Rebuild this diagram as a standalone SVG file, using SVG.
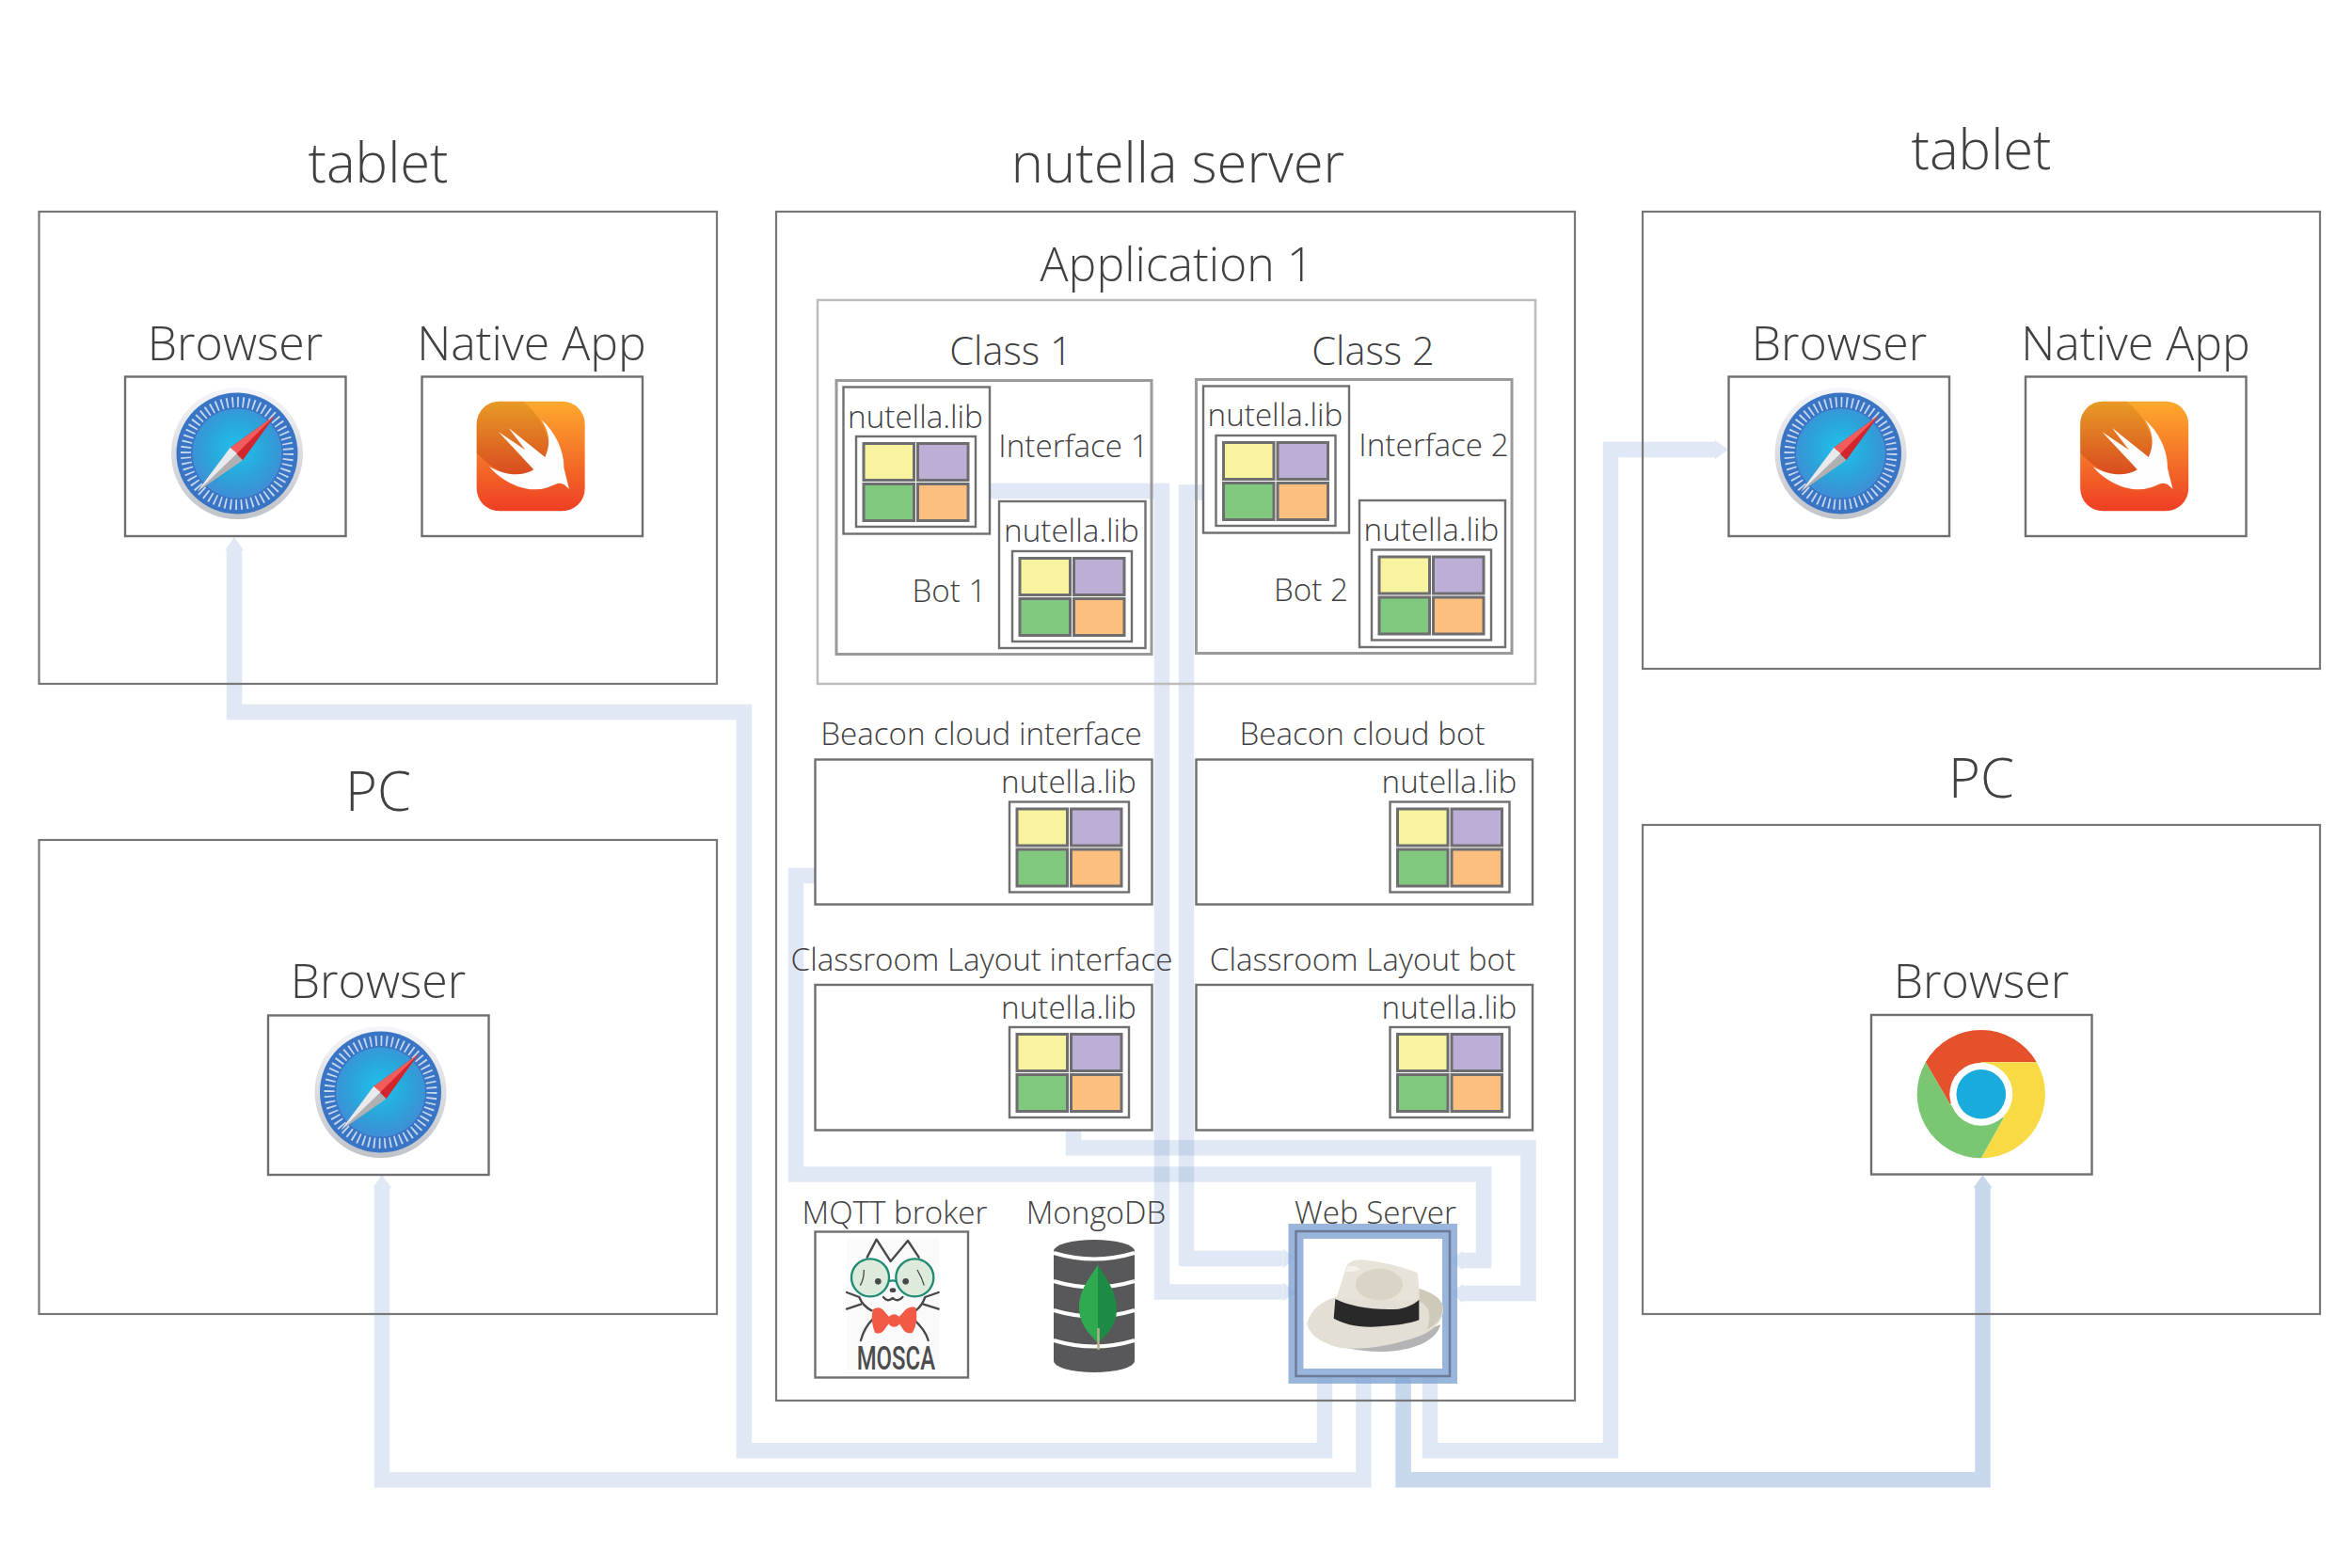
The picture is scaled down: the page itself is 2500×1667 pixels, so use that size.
<svg xmlns="http://www.w3.org/2000/svg" xmlns:xlink="http://www.w3.org/1999/xlink" width="2500" height="1667" viewBox="0 0 2500 1667">
<style>
text{font-family:"Open Sans","Liberation Sans",sans-serif;font-weight:300;fill:#404042;text-anchor:middle}
.h1{font-size:58px}.h2{font-size:50px}.h3{font-size:41.5px}.h4{font-size:33.2px}
.box{fill:none;stroke:#77777a;stroke-width:2.2}
.wbox{fill:#fff;stroke:#6f6f72;stroke-width:2.4}
.light{fill:none;stroke:#bcbcbc;stroke-width:2.5}
.mid{fill:none;stroke:#9a9a9c;stroke-width:3}
.c{fill:none;stroke:#5b8cc8;stroke-width:16.5;opacity:.19}
.d{opacity:.33}
.sq{stroke:#6e6e70;stroke-width:3}
.ink{fill:none;stroke:#48484a;stroke-width:7;stroke-linecap:round;stroke-linejoin:round}
</style>
<defs>
<marker id="a" viewBox="0 0 14 20" refX="0" refY="10" markerUnits="userSpaceOnUse" markerWidth="14" markerHeight="20" orient="auto"><path d="M0,0L14,10L0,20Z" fill="#5b8cc8"/></marker>
<radialGradient id="sg" cx=".5" cy=".45" r=".55"><stop offset="0" stop-color="#20c2ee"/><stop offset=".55" stop-color="#2aa6da"/><stop offset="1" stop-color="#3f8ed6"/></radialGradient>
<linearGradient id="rim" x1="0" y1="0" x2="0" y2="1"><stop offset="0" stop-color="#f4f6f9"/><stop offset="1" stop-color="#c0c3c8"/></linearGradient>
<linearGradient id="sw" x1="0" y1="0" x2="0" y2="1"><stop offset="0" stop-color="#fdaa2d"/><stop offset="1" stop-color="#ee3e24"/></linearGradient>
<linearGradient id="cr" x1="0" y1="0" x2="0" y2="1"><stop offset="0" stop-color="#a86a10" stop-opacity=".25"/><stop offset="1" stop-color="#a82010" stop-opacity=".35"/></linearGradient>
<g id="lib"><rect class="wbox" width="127" height="96"/>
<rect class="sq" x="8" y="7.5" width="53.5" height="39" fill="#f8f39e"/><rect class="sq" x="65.5" y="7.5" width="53.5" height="39" fill="#bdaed5"/>
<rect class="sq" x="8" y="50.5" width="53.5" height="39" fill="#7fc87d"/><rect class="sq" x="65.5" y="50.5" width="53.5" height="39" fill="#fdbf7e"/></g>
<g id="safari"><circle r="70" fill="url(#rim)"/><circle r="64.5" fill="#3a74c4"/>
<circle r="54.5" fill="none" stroke="#c4d8ef" stroke-width="11" stroke-dasharray="1.8 3.9"/>
<circle r="47.5" fill="url(#sg)"/>
<path d="M40.3,-40.3L-7.3,-6L6,7.3Z" fill="#d2262c"/><path d="M40.3,-40.3L-7.3,-6L0,0Z" fill="#f25c5c"/>
<path d="M-42.3,40.7L-7.3,-6L6,7.3Z" fill="#b0b0b2"/><path d="M-42.3,40.7L-7.3,-6L0,0Z" fill="#e9eaed"/></g>
<g id="swift" transform="translate(-75,-75) scale(.33333)"><rect x="50" y="50" width="345" height="350" rx="72" fill="url(#sw)"/>
<path d="M200,50C245,90 285,150 280,205C270,260 235,285 190,290C150,292 100,265 50,215V122A72,72 0 0 1 122,50Z" fill="url(#cr)"/>
<path d="M255,108C305,150 330,215 328,262L345,330C335,320 328,312 315,311C295,312 280,330 240,331C190,333 130,305 90,258C130,282 190,295 232,268L120,148L205,205L152,135L268,228C285,190 285,150 255,108Z" fill="#fefefe"/></g>
</defs>
<rect width="2500" height="1667" fill="#fff"/>
<g id="connectors">
<path class="c" d="M1052,522H1235V1373.5H1363.6" marker-end="url(#a)"/>
<path class="c" d="M1279,523.5H1261V1338H1363.6" marker-end="url(#a)"/>
<path class="c" d="M866,931H846V1248.5H1577V1340H1555" marker-end="url(#a)"/>
<path class="c" d="M1141,1202V1220.3H1624.5V1375H1555" marker-end="url(#a)"/>
<path class="c" d="M1408,1463V1542.3H791V757H249V585" marker-end="url(#a)"/>
<path class="c" d="M1449.4,1463V1573.3H406V1263" marker-end="url(#a)"/>
<path class="c d" d="M1491.6,1463V1573.3H2107.5V1263" marker-end="url(#a)"/>
<path class="c" d="M1520,1463V1542.3H1712V478H1823" marker-end="url(#a)"/>
</g>
<g id="tablet-left"><rect class="box" x="41.5" y="225" width="720.5" height="502"/><text class="h1" x="402" y="194">tablet</text></g>
<g id="pc-left"><rect class="box" x="41.5" y="893" width="720.5" height="504"/><text class="h1" x="402" y="862">PC</text></g>
<g id="server"><rect class="box" x="825" y="225" width="849" height="1264"/><text class="h1" x="1252" y="194">nutella server</text></g>
<g id="tablet-right"><rect class="box" x="1746" y="225" width="720" height="486"/><text class="h1" x="2106" y="180">tablet</text></g>
<g id="pc-right"><rect class="box" x="1746" y="877" width="720" height="520"/><text class="h1" x="2106" y="848">PC</text></g>
<g id="app"><rect class="light" x="869" y="319" width="763" height="408"/><text class="h2" x="1251" y="299">Application 1</text></g>
<g id="class1"><rect class="mid" x="889" y="404.5" width="335" height="291"/><text class="h3" x="1074.5" y="388">Class 1</text><text class="h4" x="1141" y="486">Interface 1</text><text class="h4" x="1009" y="640">Bot 1</text></g>
<g id="class2"><rect class="mid" x="1271.5" y="403.5" width="335.5" height="291"/><text class="h3" x="1459.5" y="388">Class 2</text><text class="h4" x="1524" y="485">Interface 2</text><text class="h4" x="1393.5" y="639">Bot 2</text></g>
<g id="lib-interface1"><rect class="wbox" x="896.5" y="411.5" width="155.5" height="156"/><text class="h4" x="973" y="455">nutella.lib</text><use xlink:href="#lib" href="#lib" x="910" y="464"/></g>
<g id="lib-bot1"><rect class="wbox" x="1062" y="533" width="155.5" height="156"/><text class="h4" x="1139" y="576">nutella.lib</text><use xlink:href="#lib" href="#lib" x="1076" y="586"/></g>
<g id="lib-interface2"><rect class="wbox" x="1279" y="410.5" width="155" height="156"/><text class="h4" x="1355.5" y="453">nutella.lib</text><use xlink:href="#lib" href="#lib" x="1292.5" y="463"/></g>
<g id="lib-bot2"><rect class="wbox" x="1445" y="532" width="155" height="156"/><text class="h4" x="1521.5" y="575">nutella.lib</text><use xlink:href="#lib" href="#lib" x="1458" y="584.5"/></g>
<g id="beacon-interface"><rect class="wbox" x="866.5" y="807.5" width="358" height="154"/><text class="h4" x="1043" y="792">Beacon cloud interface</text><text class="h4" x="1136" y="842.5">nutella.lib</text><use xlink:href="#lib" href="#lib" x="1073" y="852.5"/></g>
<g id="beacon-bot"><rect class="wbox" x="1271.5" y="807.5" width="357.5" height="154"/><text class="h4" x="1448" y="792">Beacon cloud bot</text><text class="h4" x="1540.5" y="842.5">nutella.lib</text><use xlink:href="#lib" href="#lib" x="1477.5" y="852.5"/></g>
<g id="classroom-interface"><rect class="wbox" x="866.5" y="1047" width="358" height="154.5"/><text class="h4" x="1043.5" y="1032">Classroom Layout interface</text><text class="h4" x="1136" y="1082.5">nutella.lib</text><use xlink:href="#lib" href="#lib" x="1073" y="1092"/></g>
<g id="classroom-bot"><rect class="wbox" x="1271.5" y="1047" width="357.5" height="154.5"/><text class="h4" x="1448.5" y="1032">Classroom Layout bot</text><text class="h4" x="1540.5" y="1082.5">nutella.lib</text><use xlink:href="#lib" href="#lib" x="1477.5" y="1092"/></g>
<g id="browser-tablet-left"><text class="h2" x="250" y="383">Browser</text><rect class="wbox" x="133" y="400.5" width="234.5" height="169.5"/><use xlink:href="#safari" href="#safari" x="252" y="482"/></g>
<g id="native-tablet-left"><text class="h2" x="565" y="383">Native App</text><rect class="wbox" x="448.5" y="400.5" width="234.5" height="169.5"/><use xlink:href="#swift" href="#swift" x="565" y="485"/></g>
<g id="browser-tablet-right"><text class="h2" x="1955" y="383">Browser</text><rect class="wbox" x="1837.5" y="400.5" width="234.5" height="169.5"/><use xlink:href="#safari" href="#safari" x="1956.5" y="482"/></g>
<g id="native-tablet-right"><text class="h2" x="2270" y="383">Native App</text><rect class="wbox" x="2153" y="400.5" width="234.5" height="169.5"/><use xlink:href="#swift" href="#swift" x="2269.5" y="485"/></g>
<g id="browser-pc-left"><text class="h2" x="402" y="1061">Browser</text><rect class="wbox" x="285" y="1079.5" width="234.5" height="169.5"/><use xlink:href="#safari" href="#safari" x="404.5" y="1161"/></g>
<g id="browser-pc-right"><text class="h2" x="2106" y="1061">Browser</text><rect class="wbox" x="1989" y="1079" width="234.5" height="169.5"/>
<g transform="translate(2105.8,1163.3)"><path d="M59,-34A68,68 0 0 0 -59,-34L-33,11L0,-34Z" fill="#e4512b"/><path d="M59,-34A68,68 0 0 1 0,68L24,25L0,-34Z" fill="#f7da44"/><path d="M0,68A68,68 0 0 1 -59,-34L-33,11L24,25Z" fill="#7ac673"/><circle r="33.5" fill="#fff"/><circle r="26.3" fill="#1aabdd"/></g></g>
<g id="mqtt"><text class="h4" x="951" y="1301">MQTT broker</text><rect class="wbox" x="866.5" y="1309.5" width="162.5" height="155"/>
<g transform="translate(865,1305) scale(.33333)">
<rect x="105" y="35" width="295" height="420" fill="#fafafa"/>
<path class="ink" d="M170,95L200,38L245,108L300,42L335,95"/>
<path class="ink" d="M105,207L145,222M105,260L150,245M398,207L355,222M398,260L350,245M145,222Q155,250 185,265M355,222Q345,250 325,265M190,290Q160,320 150,360M315,290Q355,325 365,360"/>
<path class="ink" d="M222,222Q235,240 252,225Q268,240 283,222"/>
<g fill="#dcebdc" stroke="#1f8a72" stroke-width="7"><circle cx="180" cy="160" r="60"/><circle cx="322" cy="160" r="60"/></g>
<path d="M240,172Q251,166 262,172" fill="none" stroke="#1f8a72" stroke-width="7"/>
<path d="M160,135Q160,165 148,185M330,135Q345,160 352,185" fill="none" stroke="#48484a" stroke-width="4"/>
<g fill="#48484a"><circle cx="205" cy="172" r="10"/><circle cx="293" cy="172" r="10"/><ellipse cx="252" cy="200" rx="10" ry="7"/></g>
<path d="M188,262Q205,250 220,262L240,285V305L222,330Q210,342 195,335Q180,300 188,262ZM325,255Q305,250 290,265L272,285V305L288,330Q300,340 315,335Q335,300 325,255Z" fill="#f25a45"/><circle cx="256" cy="297" r="20" fill="#f25a45"/>
<text x="262" y="452" textLength="250" lengthAdjust="spacingAndGlyphs" style="font-family:Roboto,'Liberation Sans',sans-serif;font-weight:500;font-size:105px;fill:#4c4c4e">MOSCA</text></g></g>
<g id="mongodb"><text class="h4" x="1165" y="1301">MongoDB</text>
<path d="M1120,1330A43,12 0 0 1 1206,1330V1447A43,12 0 0 1 1120,1447Z" fill="#58585a"/>
<path d="M1120,1332Q1163,1345 1206,1332M1120,1362Q1163,1375 1206,1362M1120,1393Q1163,1406 1206,1393M1120,1425Q1163,1438 1206,1425" fill="none" stroke="#fff" stroke-width="4"/>
<path d="M1167,1345C1155,1362 1146,1375 1147,1392C1148,1410 1160,1420 1167,1428Z" fill="#30aa50"/><path d="M1167,1345C1178,1362 1187,1375 1187,1392C1187,1410 1175,1420 1167,1428Z" fill="#1c8b43"/><path d="M1167.5,1412V1435" stroke="#b5b08a" stroke-width="2.5"/></g>
<g id="web-server"><text class="h4" x="1462" y="1301">Web Server</text>
<rect x="1386" y="1317" width="146" height="138" fill="#fff"/>
<rect x="1377.5" y="1309" width="163.5" height="154" fill="none" stroke="#7fa3d3" stroke-width="16" opacity=".8"/>
<rect x="1377.5" y="1309" width="163.5" height="154" fill="none" stroke="#6d7a94" stroke-width="2.5"/>
<g transform="translate(1370,1300) scale(.33333)">
<path d="M170,396C240,412 300,416 360,405C420,395 470,370 484,325L470,330L300,385Z" fill="#b4b4b6"/>
<path d="M150,237C105,250 70,275 58,320C60,350 100,385 170,400C240,405 320,395 420,360C470,340 495,305 492,270C488,240 450,220 415,210Z" fill="#e3dfd4"/>
<path d="M415,210C450,220 488,240 492,270C490,300 470,325 440,340C455,300 450,265 415,250Z" fill="#cfc9b9"/>
<path d="M150,242C160,215 170,180 180,150C185,125 205,115 235,118C300,125 360,140 410,160C415,190 415,220 415,248Z" fill="#e8e3d8"/>
<path d="M180,155C195,160 215,155 230,148C215,138 200,135 185,140Z" fill="#f4f1ea"/>
<ellipse cx="288" cy="197" rx="75" ry="50" fill="#d9d4c6"/>
<path d="M148,243C190,265 270,280 350,275C375,270 400,260 415,245V310C390,320 340,330 260,332C210,332 170,320 143,305Z" fill="#29292a"/>
</g></g>
</svg>
